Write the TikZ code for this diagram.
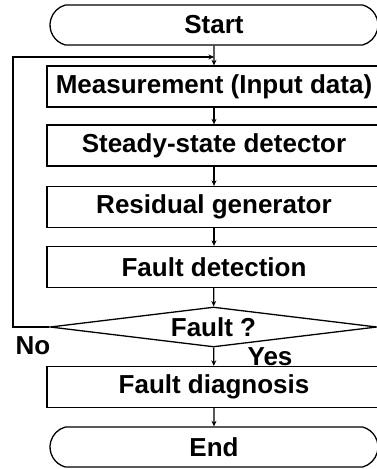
\documentclass[tikz,border=0pt]{standalone}
\usepackage{fontspec}
\setmainfont{Liberation Sans}
\usetikzlibrary{shapes.misc,shapes.geometric,arrows.meta}
\begin{document}
\begin{tikzpicture}[x=1pt,y=-1pt,
  every node/.style={font=\fontsize{26}{28}\selectfont\bfseries},
  procbox/.style={draw,line width=1.3pt,rectangle,minimum width=334pt,minimum height=41pt,inner sep=0pt},
  termbox/.style={draw,line width=1.3pt,rounded rectangle,rounded rectangle arc length=150,minimum width=328pt,minimum height=40pt,inner sep=0pt},
  decbox/.style={draw,line width=1.3pt,diamond,aspect=8.2,minimum width=327pt,minimum height=40pt,inner sep=0pt},
  flow/.style={line width=1.3pt,-{Stealth[length=5.5pt,width=5pt]}},
  lbl/.style={inner sep=0pt}]
\useasboundingbox (0,0) rectangle (377,469);
\clip (0,0) rectangle (377,469);
\node[termbox] (start) at (214,25) {Start};
\node[procbox] (meas) at (214,86.5) {Measurement (Input data)};
\node[procbox] (steady) at (214,145.5) {Steady-state detector};
\node[procbox] (resid) at (214,207) {Residual generator};
\node[procbox] (fdet) at (214,267) {Fault detection};
\node[decbox] (fault) at (213.5,327) {Fault ?};
\node[procbox] (fdiag) at (214,387) {Fault diagnosis};
\node[termbox] (end) at (214,447) {End};
\coordinate (join) at (214,57);
\coordinate (lb) at (13,327);
\coordinate (lt) at (13,57);
\draw[flow] (start) -- (meas);
\draw[flow] (meas) -- (steady);
\draw[flow] (steady) -- (resid);
\draw[flow] (resid) -- (fdet);
\draw[flow] (fdet) -- (fault);
\draw[flow] (fault) -- (fdiag);
\draw[flow] (fdiag) -- (end);
\draw[flow] (fault.west) -- (lb) -- (lt) -- (join);
\node[lbl] (no) at (33,346) {No};
\node[lbl] (yes) at (270,357) {Yes};
\end{tikzpicture}
\end{document}
